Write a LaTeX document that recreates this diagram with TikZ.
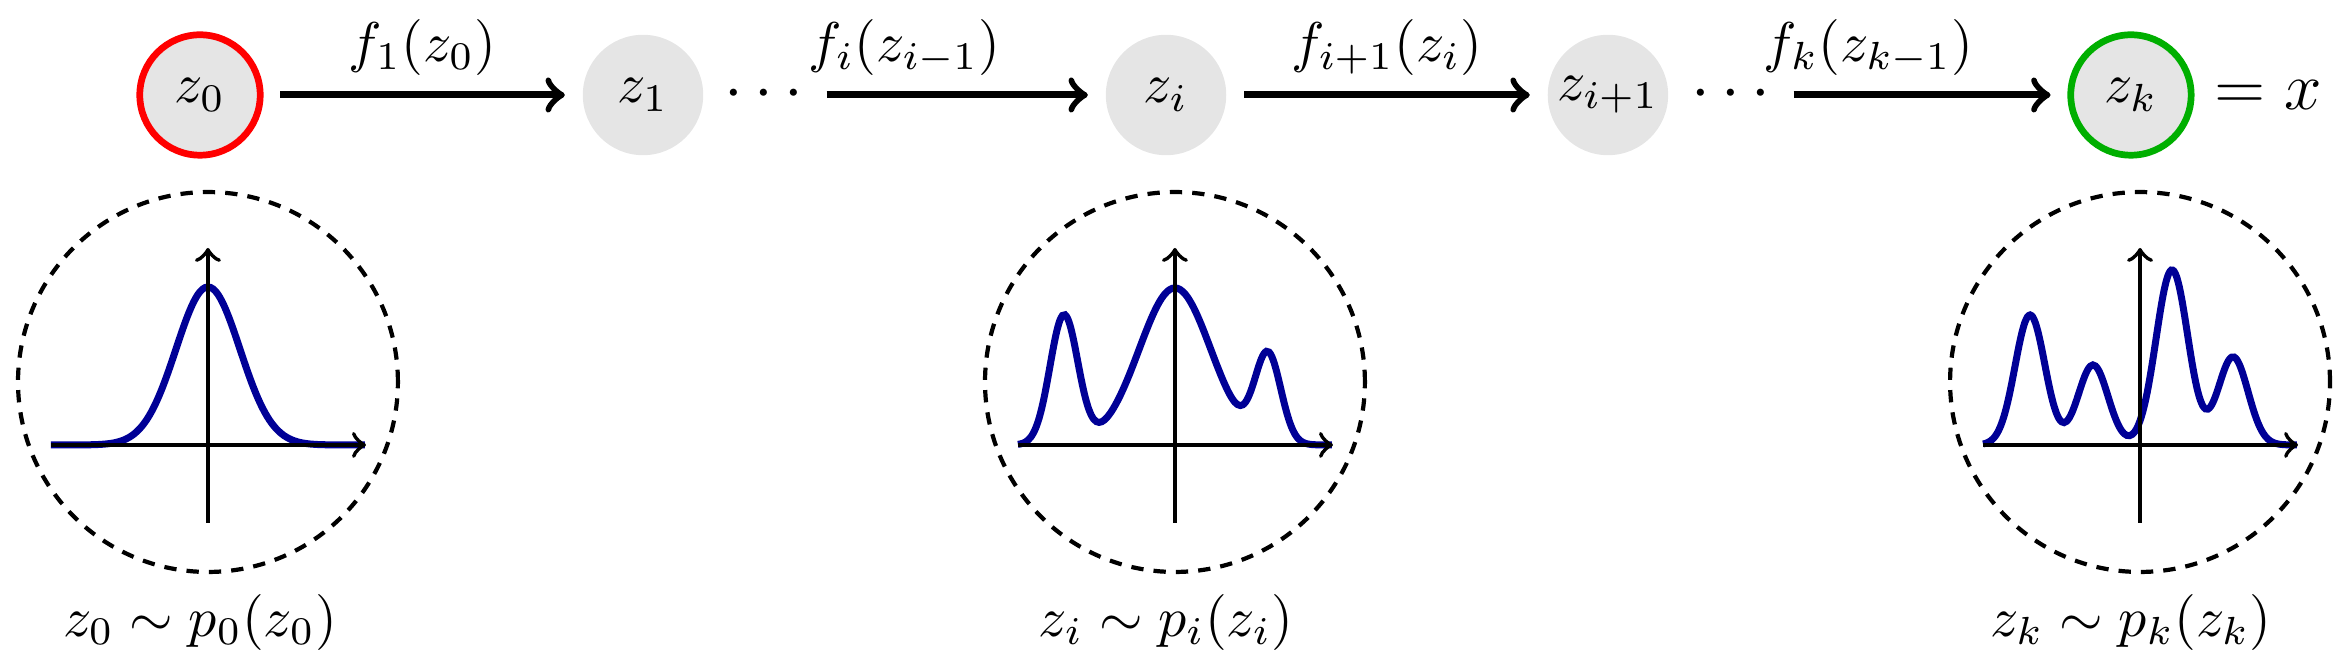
\documentclass[tikz,border=0pt]{standalone}
\usetikzlibrary{positioning}

\definecolor{startred}{RGB}{255,0,0}
\definecolor{endgreen}{RGB}{0,175,0}
\definecolor{densityblue}{RGB}{0,0,150}

\begin{document}
\begin{tikzpicture}[
        latent/.style={
        circle,
        fill=gray!20,
        minimum size=21.5pt,
        inner sep=0pt,
        },
        skip/.style={inner sep=1pt, font=\large},
        flow/.style={->, line width=1.25pt, shorten <=3pt, shorten >=3pt},
        density/.style={
        circle,
        draw,
        line width=0.75pt,
        dash pattern=on 2.2pt off 1.8pt,
        minimum size=2.384cm,
        inner sep=0pt,
        },
        axis/.style={->, line width=0.75pt},
        pdf/.style={densityblue, line width=1.25pt, smooth, samples=121, domain=-1.57:1.57}
      ]
        \useasboundingbox (0, 0) rectangle (14.759, -4.198);

        \node[latent, draw=startred, line width=1.2pt] (z0) at (1.255, -0.596) {$z_0$};
        \node[latent] (z1) at (4.035, -0.596) {$z_1$};
        \node[skip] (d1) at (4.794, -0.596) {$\cdots$};
        \node[latent] (zi) at (7.317, -0.596) {$z_i$};
        \node[latent] (zi1) at (10.090, -0.596) {$z_{i+1}$};
        \node[skip] (d2) at (10.862, -0.596) {$\cdots$};
        \node[latent, draw=endgreen, line width=1.2pt] (zk) at (13.372, -0.596) {$z_k$};
        \node[right=0pt of zk, font=\large] (x) {$= x$};

        \draw[flow] (z0) -- (z1);
        \draw[flow] (d1) -- (zi);
        \draw[flow] (zi) -- (zi1);
        \draw[flow] (d2) -- (zk);

        \path (z0) -- node[above] {$f_1(z_0)$} (z1);
        \path (z1) -- node[above] {$f_i(z_{i-1})$} (zi);
        \path (zi) -- node[above] {$f_{i+1}(z_i)$} (zi1);
        \path (zi1) -- node[above] {$f_k(z_{k-1})$} (zk);

        \node[density] (p0) at (1.305, -2.397) {};
        \node[density] (pi) at (7.373, -2.397) {};
        \node[density] (pk) at (13.429, -2.397) {};

        \node[anchor=base] (l0) at (1.255, -3.991) {$z_0 \sim p_0(z_0)$};
        \node[anchor=base] (li) at (7.317, -3.991) {$z_i \sim p_i(z_i)$};
        \node[anchor=base] (lk) at (13.372, -3.991) {$z_k \sim p_k(z_k)$};

        \coordinate (o0) at (1.305, -2.792);
        \coordinate (oi) at (7.373, -2.792);
        \coordinate (ok) at (13.429, -2.792);

        \begin{scope}[shift={(o0)}, x=0.6275cm, y=0.6275cm]
          \draw[pdf] plot (\x, {1.58*exp(-\x*\x/0.2048)});
          \draw[axis] (-1.57, 0) -- (1.58, 0);
          \draw[axis] (0, -0.78) -- (0, 1.97);
        \end{scope}

        \begin{scope}[shift={(oi)}, x=0.6275cm, y=0.6275cm]
          \draw[pdf] plot (\x, {1.29*exp(-((\x+1.11)*(\x+1.11))/0.0392)
            + 1.57*exp(-\x*\x/0.2592) + 0.88*exp(-((\x-0.93)*(\x-0.93))/0.0338)});
          \draw[axis] (-1.57, 0) -- (1.58, 0);
          \draw[axis] (0, -0.78) -- (0, 1.97);
        \end{scope}

        \begin{scope}[shift={(ok)}, x=0.6275cm, y=0.6275cm]
          \draw[pdf] plot (\x, {1.30*exp(-((\x+1.10)*(\x+1.10))/0.045)
            + 0.80*exp(-((\x+0.47)*(\x+0.47))/0.045)
            + 1.75*exp(-((\x-0.32)*(\x-0.32))/0.0512)
            + 0.88*exp(-((\x-0.93)*(\x-0.93))/0.045)});
          \draw[axis] (-1.57, 0) -- (1.58, 0);
          \draw[axis] (0, -0.78) -- (0, 1.97);
        \end{scope}
      \end{tikzpicture}
\end{document}
